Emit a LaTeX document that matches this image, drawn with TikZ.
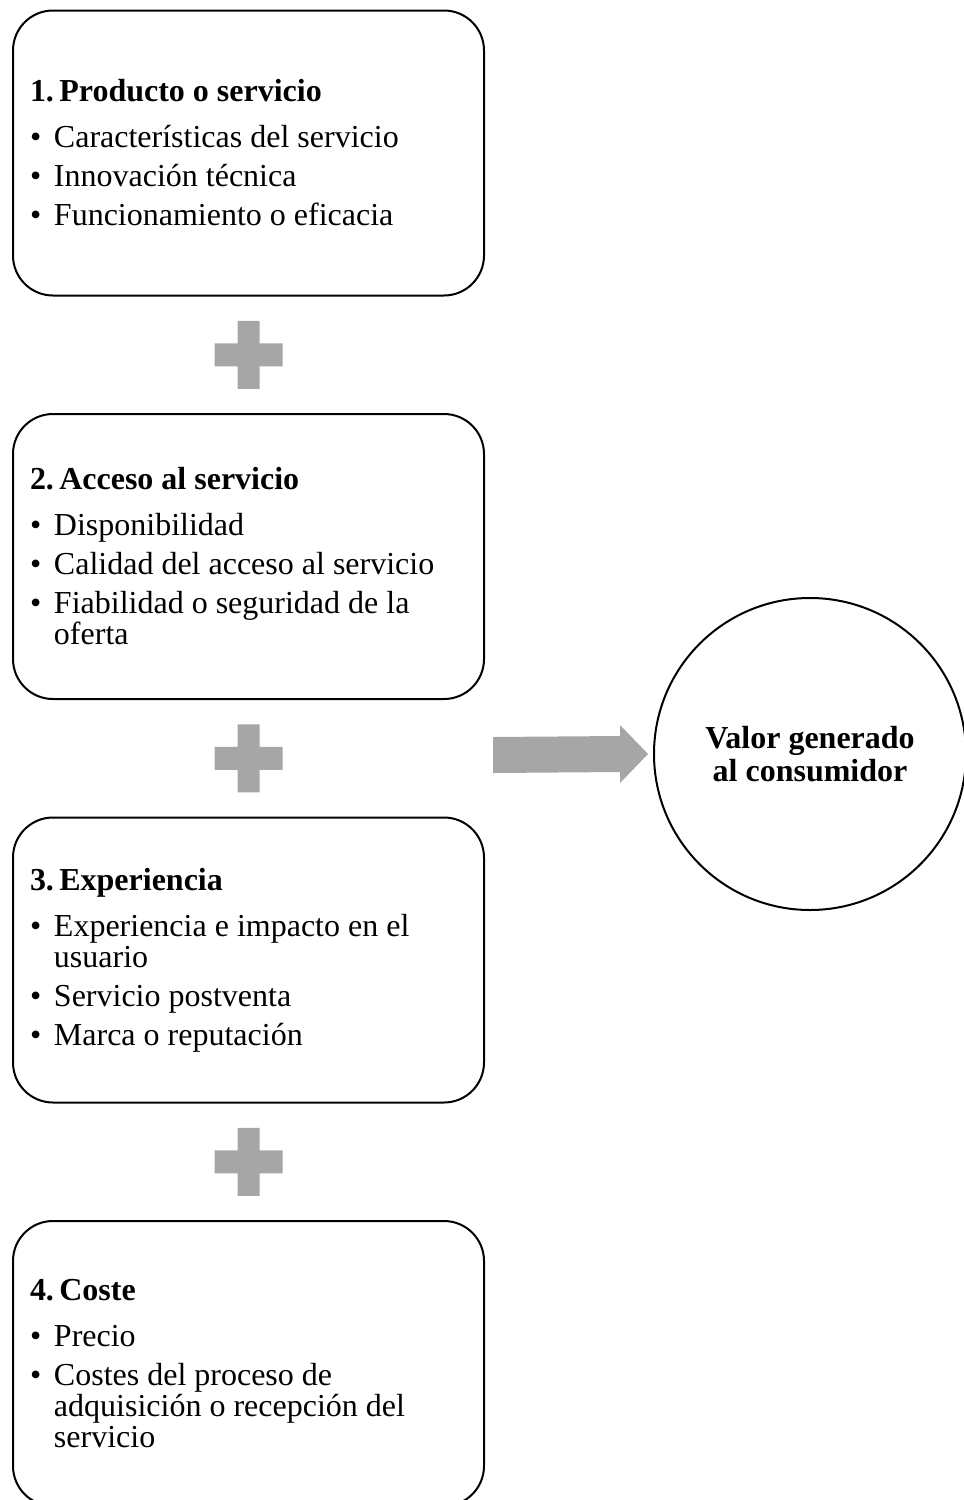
\documentclass[tikz,border=0pt]{standalone}
\usepackage{fontspec}
\setmainfont{Liberation Serif}
\usetikzlibrary{positioning, calc}

\newlength{\bulw}
\setlength{\bulw}{24pt}
\newcommand{\itm}[1]{\makebox[\bulw][l]{\textbullet}#1}
\newcommand{\cnt}{\hspace*{\bulw}}
\newcommand{\plusat}[1]{\fill[plusgray, shift={(#1)}] (-11,-34) rectangle (11,34) (-34,-11.5) rectangle (34,11.5);}

\begin{document}
\begin{tikzpicture}[x=1pt, y=-1pt, node distance=116.5pt,
    valbox/.style={draw, line width=2pt, rounded corners=40pt, text width=437pt, inner xsep=17pt, minimum height=285pt, align=flush left, font=\fontsize{32}{31}\selectfont},
    plusgray/.style={fill={rgb,255:red,166;green,166;blue,166}}]
    \useasboundingbox (0,0) rectangle (964,1500);

    \node[valbox] (prod) at (248.5,153) {\textbf{1.\,Producto o servicio}\\[15pt]
        \itm{Características del servicio}\\[8pt]
        \itm{Innovación técnica}\\[8pt]
        \itm{Funcionamiento o eficacia}};
    \node[valbox, below=of prod] (acceso) {\textbf{2.\,Acceso al servicio}\\[15pt]
        \itm{Disponibilidad}\\[8pt]
        \itm{Calidad del acceso al servicio}\\[8pt]
        \itm{Fiabilidad o seguridad de la}\\
        \cnt oferta};
    \node[valbox, below=of acceso] (exper) {\textbf{3.\,Experiencia}\\[15pt]
        \itm{Experiencia e impacto en el}\\
        \cnt usuario\\[8pt]
        \itm{Servicio postventa}\\[8pt]
        \itm{Marca o reputación}};
    \node[valbox, below=of exper] (coste) {\textbf{4.\,Coste}\\[15pt]
        \itm{Precio}\\[8pt]
        \itm{Costes del proceso de}\\
        \cnt adquisición o recepción del\\
        \cnt servicio};

    % signos de suma entre las cajas
    \plusat{$(prod.south)!0.5!(acceso.north)$}
    \plusat{$(acceso.south)!0.5!(exper.north)$}
    \plusat{$(exper.south)!0.5!(coste.north)$}

    \node[circle, draw, line width=2pt, minimum size=312pt, align=center, font=\bfseries\fontsize{32}{33}\selectfont] (valor) at (810,754) {Valor generado\\al consumidor};

    % flecha hacia el valor
    \fill[plusgray] ($(valor.west)+(-160,-17)$) -- ($(valor.west)+(-33,-18)$) -- ($(valor.west)+(-33,-29)$)
        -- ($(valor.west)+(-5,0)$) -- ($(valor.west)+(-33,29)$) -- ($(valor.west)+(-33,18)$)
        -- ($(valor.west)+(-160,19)$) -- cycle;
\end{tikzpicture}
\end{document}
